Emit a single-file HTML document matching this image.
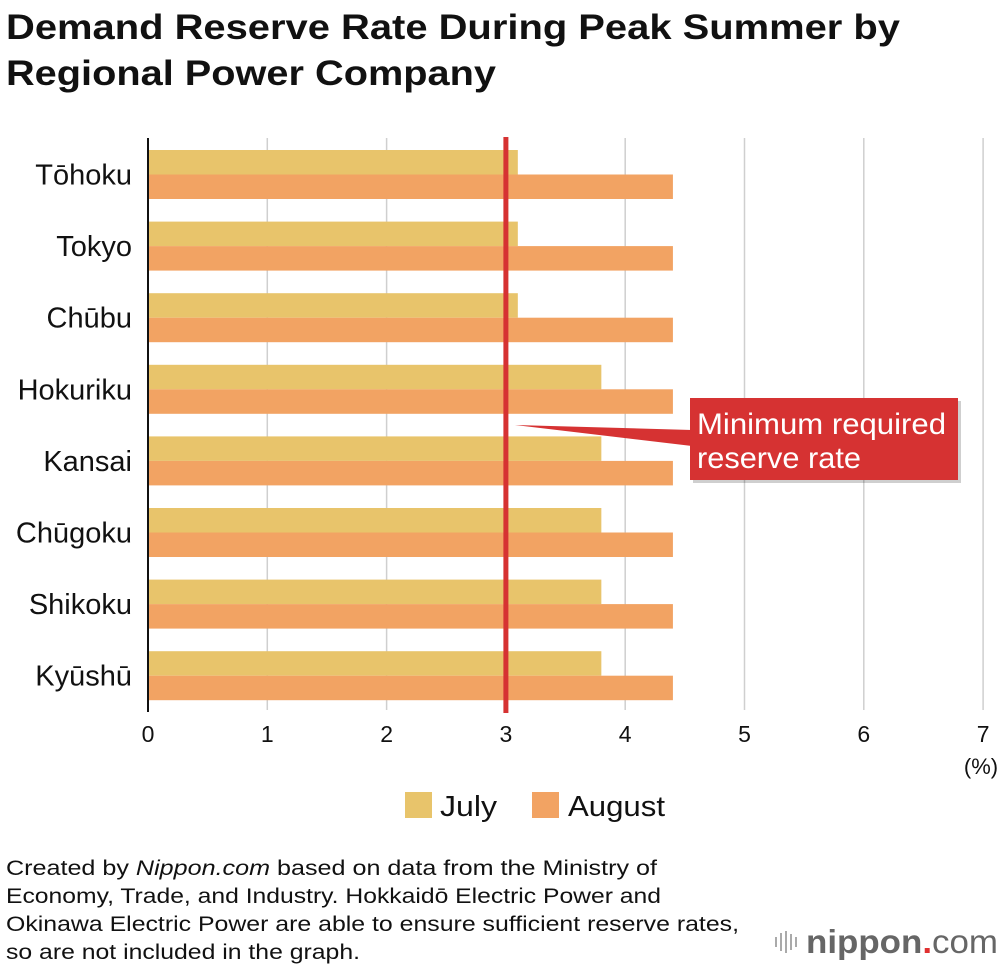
<!DOCTYPE html>
<html><head><meta charset="utf-8"><style>
body{margin:0;background:#fff;width:1000px;height:966px;overflow:hidden;font-family:"Liberation Sans",sans-serif}
svg{position:absolute;left:0;top:0}
</style></head><body>
<svg id="c" width="1000" height="966" xmlns="http://www.w3.org/2000/svg">
<text x="6" y="39" font-size="35" font-weight="bold" fill="#111" textLength="894" lengthAdjust="spacingAndGlyphs">Demand Reserve Rate During Peak Summer by</text>
<text x="6" y="85" font-size="35" font-weight="bold" fill="#111" textLength="490" lengthAdjust="spacingAndGlyphs">Regional Power Company</text>
<g id="grid"></g><g id="bars"></g><g id="labels"></g>
<text x="981" y="774" font-size="22" text-anchor="middle" fill="#111">(%)</text>
<rect x="405" y="792" width="27" height="26" fill="#e8c46b"/>
<text x="440" y="816" font-size="29" fill="#111" textLength="57" lengthAdjust="spacingAndGlyphs">July</text>
<rect x="532" y="792" width="27" height="26" fill="#f2a363"/>
<text x="568" y="816" font-size="29" fill="#111" textLength="97" lengthAdjust="spacingAndGlyphs">August</text>
<g font-size="21" fill="#111">
<text x="6" y="875" textLength="651" lengthAdjust="spacingAndGlyphs">Created by <tspan font-style="italic">Nippon.com</tspan> based on data from the Ministry of</text>
<text x="6" y="903" textLength="655" lengthAdjust="spacingAndGlyphs">Economy, Trade, and Industry. Hokkaidō Electric Power and</text>
<text x="6" y="931" textLength="733" lengthAdjust="spacingAndGlyphs">Okinawa Electric Power are able to ensure sufficient reserve rates,</text>
<text x="6" y="959" textLength="354" lengthAdjust="spacingAndGlyphs">so are not included in the graph.</text>
</g>
<g>
<rect x="775" y="937" width="2" height="10" fill="#aaa"/><rect x="780" y="933" width="2" height="18" fill="#aaa"/><rect x="785" y="931" width="2" height="22" fill="#aaa"/><rect x="790" y="934" width="2" height="16" fill="#aaa"/><rect x="795" y="937" width="2" height="10" fill="#aaa"/>
<text x="806" y="953" font-size="33" font-weight="bold" fill="#666" textLength="192" lengthAdjust="spacingAndGlyphs">nippon<tspan fill="#e03030">.</tspan><tspan font-weight="normal">com</tspan></text>
</g>
</svg>
<script>
const categories=["Tōhoku","Tokyo","Chūbu","Hokuriku","Kansai","Chūgoku","Shikoku","Kyūshū"];
const july=[3.1,3.1,3.1,3.8,3.8,3.8,3.8,3.8];
const august=[4.4,4.4,4.4,4.4,4.4,4.4,4.4,4.4];
const ticks=[0,1,2,3,4,5,6,7];
const minRate=3;
const NS="http://www.w3.org/2000/svg";
const x0=148,xs=119.3,top0=150,pitch=71.6,bh=24.5;
const X=v=>x0+v*xs, Y=i=>top0+i*pitch;
function mk(t,a,p){const e=document.createElementNS(NS,t);for(const k in a)e.setAttribute(k,a[k]);p.appendChild(e);return e;}
const grid=document.getElementById('grid'),bars=document.getElementById('bars'),labels=document.getElementById('labels');
ticks.forEach(t=>{
  if(t>0){const l=mk('line',{x1:X(t),x2:X(t),y1:138,y2:710,stroke:'#cfcfcf','stroke-width':1.5},grid);
  
  }
  const tx=mk('text',{x:X(t),y:742,'font-size':23,'text-anchor':'middle',fill:'#111'},labels);tx.textContent=t;
  
  
});
categories.forEach((c,i)=>{
  const a=mk('rect',{x:x0,y:Y(i),width:X(july[i])-x0,height:bh,fill:'#e8c46b'},bars);
  
  
  const b=mk('rect',{x:x0,y:Y(i)+bh,width:X(august[i])-x0,height:bh,fill:'#f2a363'},bars);
  
  
  const t=mk('text',{x:132,y:Y(i)+bh+10,'font-size':29,'text-anchor':'end',fill:'#111'},labels);t.textContent=c;
  
  
});
const ax=mk('line',{x1:x0,x2:x0,y1:138,y2:712,stroke:'#111','stroke-width':2},labels);


const rl=mk('line',{x1:X(minRate),x2:X(minRate),y1:137,y2:713,stroke:'#d63232','stroke-width':5},labels);


const g=mk('g',{},labels);


mk('rect',{x:693,y:401,width:268,height:82,fill:'#00000030'},g);
mk('polygon',{points:`${X(minRate)+9},425 692,430 692,446`,fill:'#d63232'},g);
mk('rect',{x:690,y:398,width:268,height:82,fill:'#d63232'},g);
const t1=mk('text',{x:697,y:434,'font-size':30,fill:'#fff',textLength:249,lengthAdjust:'spacingAndGlyphs'},g);t1.textContent='Minimum required';
const t2=mk('text',{x:697,y:468,'font-size':30,fill:'#fff',textLength:164,lengthAdjust:'spacingAndGlyphs'},g);t2.textContent='reserve rate';
</script>
</body></html>
